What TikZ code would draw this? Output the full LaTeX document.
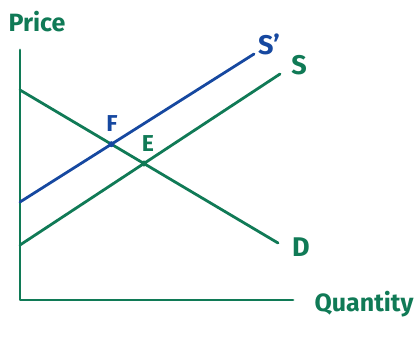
\documentclass[tikz,border=0pt]{standalone}
\usepackage{fontspec}
\setmainfont{Fira Sans}
\definecolor{EcGreen}{RGB}{16,122,86}
\definecolor{EcBlue}{RGB}{22,72,160}
\tikzset{
  curve/.style={line width=2.8pt,line cap=round,line join=round},
  axislabel/.style={text=EcGreen,font=\bfseries\fontsize{25}{25}\selectfont},
  linelabel/.style={font=\bfseries\fontsize{27}{27}\selectfont},
  ptlabel/.style={font=\bfseries\fontsize{23}{23}\selectfont},
  eqdot/.style={circle,inner sep=0pt,minimum size=6pt}
}

\begin{document}
\begin{tikzpicture}[x=1pt,y=-1pt]
      \useasboundingbox (0,0) rectangle (419,341);
      % axes
      \coordinate (origin) at (20,300);
      \coordinate (ytop) at (20,50);
      \coordinate (xend) at (293,300);
      \draw[curve,EcGreen] (ytop) -- (origin) -- (xend);
      \node[axislabel] (price) at (37,22) {Price};
      \node[axislabel] (qty) at (364,304) {Quantity};
      % demand and supply
      \coordinate (d0) at (20,90);
      \coordinate (d1) at (278,243);
      \coordinate (s0) at (20,245);
      \coordinate (s1) at (280,74);
      \coordinate (t0) at (20,202);
      \coordinate (t1) at (254,54);
      \draw[curve,EcGreen] (d0) -- (d1);
      \draw[curve,EcGreen] (s0) -- (s1);
      \draw[curve,EcBlue] (t0) -- (t1);
      \node[linelabel,text=EcGreen] (dlab) at (301,247) {D};
      \node[linelabel,text=EcGreen] (slab) at (299,65) {S};
      \node[linelabel,text=EcBlue] (tlab) at (269,44) {S'};
      % equilibria
      \node[eqdot,fill=EcGreen] (eqE) at (intersection of d0--d1 and s0--s1) {};
      \node[eqdot,fill=EcBlue] (eqF) at (intersection of d0--d1 and t0--t1) {};
      \node[ptlabel,text=EcGreen] (elab) at (148,144) {E};
      \node[ptlabel,text=EcBlue] (flab) at (112,124) {F};
    \end{tikzpicture}
\end{document}
